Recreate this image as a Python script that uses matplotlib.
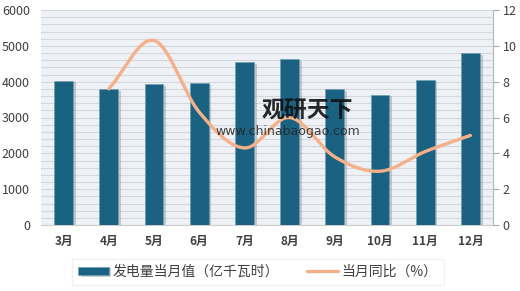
import numpy as np
import matplotlib
matplotlib.use("Agg")
import matplotlib.pyplot as plt
import matplotlib.patheffects as pe
from matplotlib.ticker import MultipleLocator

plt.rcParams['font.family'] = ['Noto Sans CJK SC', 'DejaVu Sans']

categories = ['3月', '4月', '5月', '6月', '7月', '8月', '9月', '10月', '11月', '12月']
generation = [4020, 3790, 3930, 3950, 4540, 4620, 3790, 3630, 4060, 4790]
yoy_months = ['4月', '5月', '6月', '7月', '8月', '9月', '10月', '11月', '12月']
yoy = [7.6, 10.3, 6.3, 4.3, 6.0, 3.8, 3.0, 4.1, 5.0]

bar_label = '发电量当月值（亿千瓦时）'
line_label = '当月同比（%）'

bar_color = '#1b6282'
line_color = '#f5b08a'
text_color = '#404040'


def catmull_rom(xs, ys, n=30):
    xs = np.asarray(xs, float)
    ys = np.asarray(ys, float)
    px = np.concatenate([[2 * xs[0] - xs[1]], xs, [2 * xs[-1] - xs[-2]]])
    py = np.concatenate([[2 * ys[0] - ys[1]], ys, [2 * ys[-1] - ys[-2]]])
    outx, outy = [], []
    for i in range(1, len(px) - 2):
        t = np.linspace(0, 1, n, endpoint=False)
        for arr, out in ((px, outx), (py, outy)):
            p0, p1, p2, p3 = arr[i - 1], arr[i], arr[i + 1], arr[i + 2]
            out.extend(0.5 * ((2 * p1) + (-p0 + p2) * t
                              + (2 * p0 - 5 * p1 + 4 * p2 - p3) * t ** 2
                              + (-p0 + 3 * p1 - 3 * p2 + p3) * t ** 3))
    outx.append(xs[-1])
    outy.append(ys[-1])
    return np.array(outx), np.array(outy)


fig = plt.figure(figsize=(5.2, 2.91), dpi=100)
ax = fig.add_axes([41 / 520, 1 - 225 / 291, (493 - 41) / 520, (225 - 10) / 291])
ax.set_facecolor('#eef2f6')

x = np.arange(len(categories))
bars = ax.bar(x, generation, width=0.42, color=bar_color, zorder=3,
              edgecolor='#6f9fb5', linewidth=0.5, label=bar_label)
for b in bars:
    b.set_path_effects([pe.SimplePatchShadow(offset=(2, -1), shadow_rgbFace='#777777', alpha=0.35),
                        pe.Normal()])

ax.set_xlim(-0.5, len(categories) - 0.5)
ax.set_ylim(0, 6000)
ax.yaxis.set_major_locator(MultipleLocator(1000))
ax.yaxis.set_minor_locator(MultipleLocator(200))
ax.grid(axis='y', which='both', color='#d5d8db', linewidth=0.8, zorder=0)
ax.set_axisbelow(True)
ax.set_xticks(x)
ax.set_xticklabels(categories)
ax.tick_params(axis='x', length=0, pad=7, labelsize=8.5, colors=text_color)
ax.tick_params(axis='y', which='both', length=0, pad=8, labelsize=9, colors=text_color)
for lab in ax.get_xticklabels():
    lab.set_fontweight('bold')
for s in ['top', 'left']:
    ax.spines[s].set_visible(False)
ax.spines['bottom'].set_color('#cccccc')
ax.spines['right'].set_color('#bbbbbb')

ax2 = ax.twinx()
ax2.set_ylim(0, 12)
ax2.yaxis.set_major_locator(MultipleLocator(2))
ax2.tick_params(axis='y', length=4, width=0.8, color='#aaaaaa', pad=3, labelsize=9, colors=text_color)
for s in ['top', 'left', 'bottom']:
    ax2.spines[s].set_visible(False)
ax2.spines['right'].set_color('#bbbbbb')

lx = [categories.index(m) for m in yoy_months]
sx, sy = catmull_rom(lx, yoy)
line, = ax2.plot(sx, sy, color=line_color, linewidth=2.4, solid_capstyle='round', zorder=5, label=line_label)

# watermark
fig.text(262 / 520, 1 - 111 / 291, '观研天下', fontsize=16.5, fontweight='bold', color='#111111',
         ha='left', va='center', alpha=0.9)
fig.text(215 / 520, 1 - 131 / 291, 'www.chinabaogao.com', fontsize=9, color='#222222',
         ha='left', va='center', alpha=0.85, family='DejaVu Sans')

leg = fig.legend([bars, line], [bar_label, line_label], loc='center',
                 bbox_to_anchor=(258 / 520, 1 - 272 / 291), ncol=2, frameon=True,
                 fontsize=10, handlelength=2.2, handleheight=0.55, handletextpad=0.3,
                 columnspacing=2.0, fancybox=False, borderpad=0.45, shadow=False)
leg.get_frame().set_edgecolor('#eeeeee')
leg.get_frame().set_facecolor('white')
for t in leg.get_texts():
    t.set_color(text_color)

fig.savefig('out.png', dpi=100)
